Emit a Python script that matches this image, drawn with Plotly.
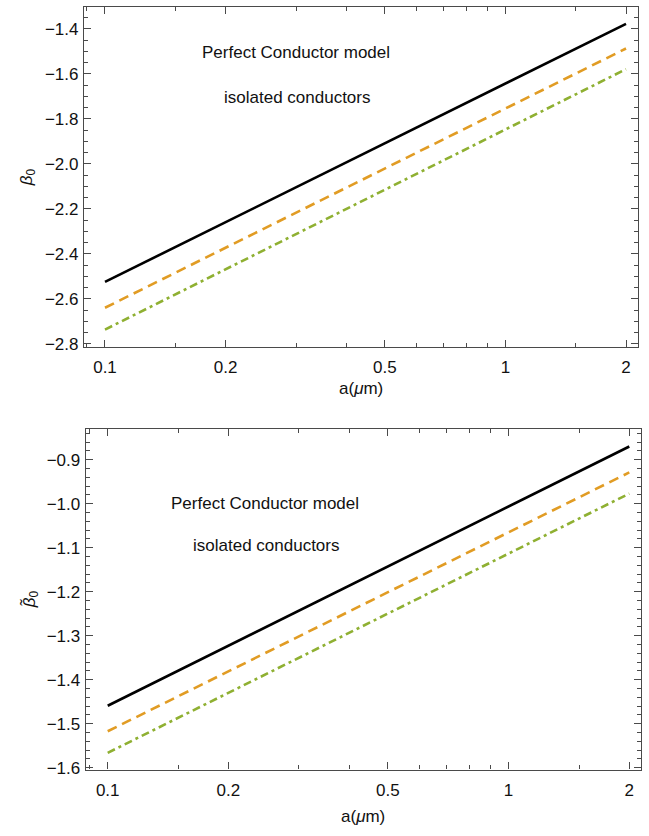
import plotly.graph_objects as go

# Particle radius a (micrometres)
a_um = [0.1, 0.2, 0.5, 1.0, 2.0]

# beta_0 (upper panel)
beta0_black = [-2.525, -2.259, -1.908, -1.643, -1.377]
beta0_orange = [-2.640, -2.373, -2.021, -1.754, -1.487]
beta0_green = [-2.737, -2.469, -2.115, -1.847, -1.579]

# beta_0 tilde (lower panel)
beta0t_black = [-1.459, -1.323, -1.143, -1.006, -0.870]
beta0t_orange = [-1.517, -1.381, -1.201, -1.065, -0.929]
beta0t_green = [-1.566, -1.430, -1.250, -1.113, -0.977]

x_ticks = [0.1, 0.2, 0.5, 1, 2]
x_ticktext = ["0.1", "0.2", "0.5", "1", "2"]
x_minor = [0.09, 0.15, 0.3, 0.4, 0.6, 0.7, 0.8, 0.9, 1.5]

y1_ticks = [-1.4, -1.6, -1.8, -2.0, -2.2, -2.4, -2.6, -2.8]
y1_ticktext = ["\u22121.4", "\u22121.6", "\u22121.8", "\u22122.0", "\u22122.2", "\u22122.4", "\u22122.6", "\u22122.8"]
y2_ticks = [-0.9, -1.0, -1.1, -1.2, -1.3, -1.4, -1.5, -1.6]
y2_ticktext = ["\u22120.9", "\u22121.0", "\u22121.1", "\u22121.2", "\u22121.3", "\u22121.4", "\u22121.5", "\u22121.6"]

BLACK = "#000000"
ORANGE = "#E19C24"
GREEN = "#8FB032"
FRAME = "#4a4a4a"
FONT = "Liberation Sans, Arial, sans-serif"
TXT = "#111111"

W, H = 649, 836

fig = go.Figure()

styles = [
    (BLACK, "solid"),
    (ORANGE, "10px,6px"),
    (GREEN, "8px,4px,3px,4px"),
]

for ys, (col, dash) in zip([beta0_black, beta0_orange, beta0_green], styles):
    fig.add_trace(go.Scatter(x=a_um, y=ys, mode="lines", xaxis="x", yaxis="y",
                             line=dict(color=col, width=2.6, dash=dash), showlegend=False))
for ys, (col, dash) in zip([beta0t_black, beta0t_orange, beta0t_green], styles):
    fig.add_trace(go.Scatter(x=a_um, y=ys, mode="lines", xaxis="x2", yaxis="y2",
                             line=dict(color=col, width=2.6, dash=dash), showlegend=False))


def xaxis(domain, anchor, rng):
    return dict(
        type="log", domain=domain, anchor=anchor, range=rng,
        tickmode="array", tickvals=x_ticks, ticktext=x_ticktext,
        ticks="inside", ticklen=7, tickwidth=1, tickcolor=FRAME,
        minor=dict(tickmode="array", tickvals=x_minor, ticks="inside", ticklen=4,
                   tickwidth=1, tickcolor=FRAME, showgrid=False),
        showline=True, linecolor=FRAME, linewidth=1.2, mirror="allticks",
        showgrid=False, zeroline=False, ticklabelstandoff=5,
        tickfont=dict(family=FONT, size=17, color=TXT),
    )


def yaxis(domain, anchor, rng, tv, tt, minor_dtick):
    return dict(
        domain=domain, anchor=anchor, range=rng,
        tickmode="array", tickvals=tv, ticktext=tt,
        ticks="inside", ticklen=7, tickwidth=1, tickcolor=FRAME,
        minor=dict(dtick=minor_dtick, tick0=0, ticks="inside", ticklen=4,
                   tickwidth=1, tickcolor=FRAME, showgrid=False),
        showline=True, linecolor=FRAME, linewidth=1.2, mirror="allticks",
        showgrid=False, zeroline=False, ticklabelstandoff=1,
        tickfont=dict(family=FONT, size=17, color=TXT),
    )


fig.update_layout(
    width=W, height=H,
    margin=dict(l=0, r=0, t=0, b=0),
    paper_bgcolor="white", plot_bgcolor="white",
    xaxis=xaxis([84 / W, 637.7 / W], "y", [-1.0524, 0.3302]),
    yaxis=yaxis([1 - 350 / H, 1 - 7 / H], "x", [-2.813, -1.302], y1_ticks, y1_ticktext, 0.05),
    xaxis2=xaxis([85.7 / W, 640.7 / W], "y2", [-1.0549, 0.3295]),
    yaxis2=yaxis([1 - 777 / H, 1 - 433 / H], "x2", [-1.604, -0.830], y2_ticks, y2_ticktext, 0.02),
)

ann_font = dict(family=FONT, size=17, color=TXT)
annotations = [
    # axis titles
    dict(text="<i>β</i><sub>0</sub>", x=28 / W, y=1 - 179 / H, textangle=-90),
    dict(text="<i>β\u0303</i><sub>0</sub>", x=30 / W, y=1 - 605 / H, textangle=-90),
    dict(text="a(<i>μ</i>m)", x=361 / W, y=1 - 392 / H),
    dict(text="a(<i>μ</i>m)", x=363 / W, y=1 - 824 / H),
    # in-plot labels
    dict(text="Perfect Conductor model", x=296 / W, y=1 - 53 / H),
    dict(text="isolated conductors", x=297 / W, y=1 - 98 / H),
    dict(text="Perfect Conductor model", x=265 / W, y=1 - 508 / H),
    dict(text="isolated conductors", x=266 / W, y=1 - 551 / H),
]
for ann in annotations:
    fig.add_annotation(xref="paper", yref="paper", xanchor="center", yanchor="middle",
                       showarrow=False, font=ann_font, **ann)

fig.write_html("out.html")
